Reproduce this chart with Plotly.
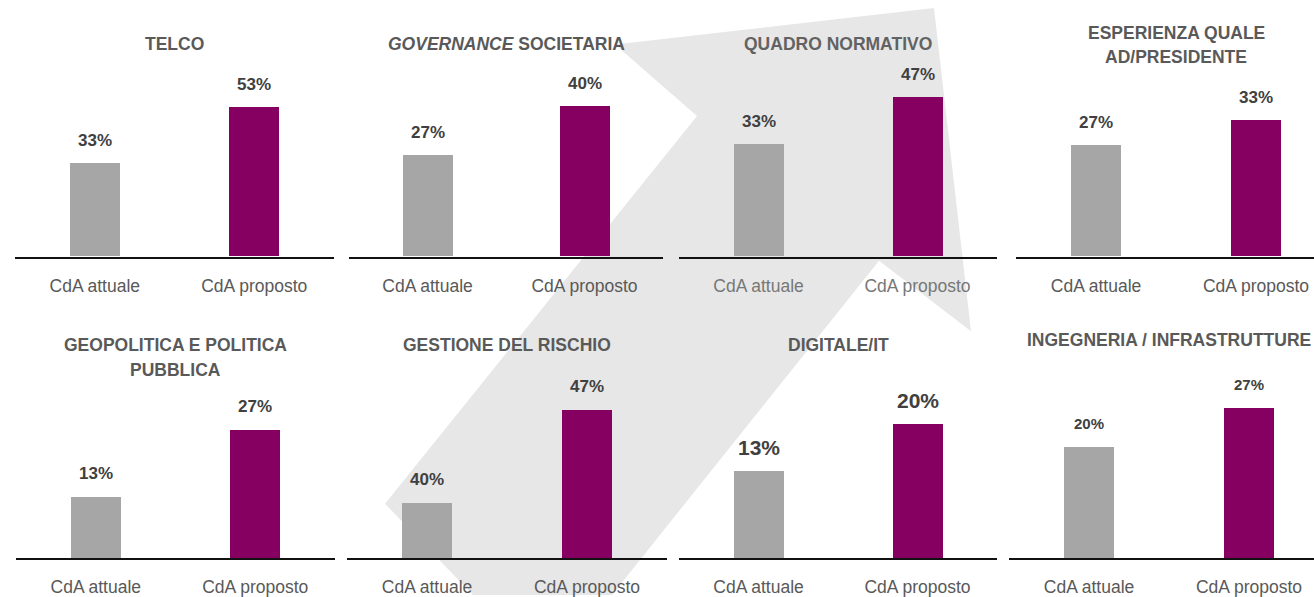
import plotly.graph_objects as go

W, H = 1314, 597

# ---------------- data ----------------
categories = ["CdA attuale", "CdA proposto"]
title_lines = [
    ["TELCO"],
    ["<i>GOVERNANCE</i> SOCIETARIA"],
    ["QUADRO NORMATIVO"],
    ["ESPERIENZA QUALE", "AD/PRESIDENTE"],
    ["GEOPOLITICA E POLITICA", "PUBBLICA"],
    ["GESTIONE DEL RISCHIO"],
    ["DIGITALE/IT"],
    ["INGEGNERIA / INFRASTRUTTURE"],
]
attuale_values = [33, 27, 33, 27, 13, 17.5, 13, 20]
proposto_values = [53, 40, 47, 33, 27, 47, 20, 27]
attuale_labels = ["33%", "27%", "33%", "27%", "13%", "40%", "13%", "20%"]
proposto_labels = ["53%", "40%", "47%", "33%", "27%", "47%", "20%", "27%"]

# ---------------- layout / style ----------------
FONT = "Liberation Sans Narrow, Arial Narrow, Liberation Sans, Arial, sans-serif"
GRAY = "#A6A6A6"
PURPLE = "#850061"
TITLE_COLOR = "#595959"
LABEL_COLOR = "#404040"
CAT_COLOR = "#595959"

# panel horizontal extent in px (virtual, may exceed canvas) and row
panel_px = [(15, 334, 0), (349, 663, 0), (679, 997, 0), (1016, 1336, 0),
            (16, 335, 1), (347, 667, 1), (679, 997, 1), (1009, 1329, 1)]
row_base = [259, 563]
row_top = [60, 380]
px_per_pct = [2.85, 3.78, 3.42, 4.17, 4.8, 3.19, 6.8, 5.62]
title_y = [[44], [44], [44], [33, 57], [348, 373], [348], [348], [343]]
title_colors = [TITLE_COLOR, TITLE_COLOR, "#626262", TITLE_COLOR,
                TITLE_COLOR, TITLE_COLOR, TITLE_COLOR, TITLE_COLOR]
label_size = [17, 17, 17, 17, 17, 17, 21, 15]
cat_colors = [CAT_COLOR, CAT_COLOR, "#777777", CAT_COLOR, CAT_COLOR, CAT_COLOR, CAT_COLOR, CAT_COLOR]
TITLE_SIZE = 17.5
CAT_SIZE = 17.5
BAR_PX = 50

fig = go.Figure()
annotations = []
layout_axes = {}

for i in range(8):
    n = i + 1
    x0, x1, row = panel_px[i]
    xe = min(x1, W)
    unit = (x1 - x0) / 2.0
    base, top = row_base[row], row_top[row]
    xa = "x" if n == 1 else f"x{n}"
    ya = "y" if n == 1 else f"y{n}"
    fig.add_trace(go.Bar(
        x=categories,
        y=[attuale_values[i], proposto_values[i]],
        marker=dict(color=[GRAY, PURPLE], line=dict(width=0)),
        width=BAR_PX / unit,
        xaxis=xa, yaxis=ya,
        hoverinfo="skip", showlegend=False,
    ))
    layout_axes["xaxis" if n == 1 else f"xaxis{n}"] = dict(
        domain=[x0 / W, xe / W],
        range=[-0.5, -0.5 + (xe - x0) / unit],
        anchor=ya,
        showline=True, linecolor="#111111", linewidth=2,
        ticks="", showgrid=False, zeroline=False,
        tickfont=dict(family=FONT, size=CAT_SIZE, color=cat_colors[i]),
        ticklabelstandoff=12,
        fixedrange=True,
    )
    layout_axes["yaxis" if n == 1 else f"yaxis{n}"] = dict(
        domain=[1 - base / H, 1 - top / H],
        range=[0, (base - top) / px_per_pct[i]],
        anchor=xa,
        visible=False, fixedrange=True,
    )
    for cat, val, lab in ((categories[0], attuale_values[i], attuale_labels[i]),
                          (categories[1], proposto_values[i], proposto_labels[i])):
        annotations.append(dict(
            x=cat, y=val, xref=xa, yref=ya, text=f"<b>{lab}</b>",
            showarrow=False, yanchor="middle", yshift=23,
            font=dict(family=FONT, size=label_size[i], color=LABEL_COLOR),
        ))
    cx = (x0 + x1) / 2.0
    for line, ty in zip(title_lines[i], title_y[i]):
        annotations.append(dict(
            x=cx / W, y=1 - ty / H, xref="paper", yref="paper",
            text=f"<b>{line}</b>", showarrow=False,
            xanchor="center", yanchor="middle",
            font=dict(family=FONT, size=TITLE_SIZE, color=title_colors[i]),
        ))

# background arrow (decoration) in pixel coordinates
arrow_px = [(934, 8), (971, 334), (879, 263), (612, 600), (473, 600),
            (385, 508), (697, 117), (615, 45)]
path = "M " + " L ".join(f"{x / W:.5f},{1 - y / H:.5f}" for x, y in arrow_px) + " Z"

fig.update_layout(
    width=W, height=H,
    margin=dict(l=0, r=0, t=0, b=0),
    paper_bgcolor="white", plot_bgcolor="rgba(0,0,0,0)",
    annotations=annotations,
    shapes=[dict(type="path", path=path, xref="paper", yref="paper",
                 fillcolor="#E7E7E7", line=dict(width=0), layer="below")],
    bargap=0,
    **layout_axes,
)

fig.write_html("out.html", config={"displayModeBar": False})
